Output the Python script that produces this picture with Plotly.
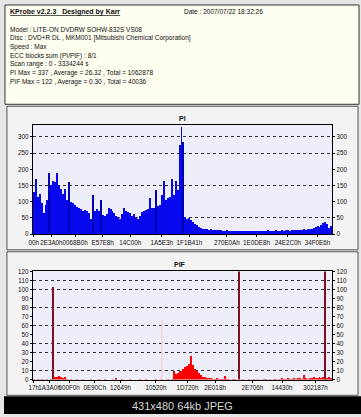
import plotly.graph_objects as go

# ---------------- data ----------------
pi_values = [
    130, 170, 115, 125, 95, 65, 90, 105, 190, 150,
    165, 160, 188, 150, 140, 125, 140, 105, 160, 100,
    95, 90, 85, 80, 78, 72, 75, 70, 65, 48,
    120, 72, 78, 70, 105, 60, 55, 62, 82, 78,
    72, 65, 55, 52, 48, 62, 80, 72, 68, 65,
    55, 62, 50, 45, 55, 68, 72, 75, 78, 110,
    80, 82, 135, 88, 90, 120, 165, 105, 112, 115,
    170, 122, 165, 135, 275, 330, 285, 52, 48, 50,
    42, 38, 32, 28, 22, 18, 16, 15, 16, 14,
    15, 13, 14, 12, 13, 12, 11, 10, 12, 9,
    10, 9,
    8, 9, 10, 8, 9, 11, 9, 8, 10, 9, 10, 9, 11, 10, 9, 10, 11,
    12, 10, 9, 11, 12, 11, 10, 12, 11, 13, 12, 11, 12, 13, 12, 14, 13,
    13, 15, 14, 16, 15, 17,
    20, 22, 24, 23, 28,
    33, 36, 31,
    18, 24,
]

pif_values = [
    1, 0, 1, 0, 1, 0, 0, 1, 0, 1,
    103,
    3, 3, 4, 3, 2, 3,
    1, 0, 1, 0, 0, 1, 0, 0, 1, 0, 0, 0, 1, 0, 0, 0, 1, 0, 0, 1, 0, 0, 0, 1, 0,
    2,
    0, 0, 1, 0, 0, 0, 1, 0, 0, 0, 0, 1, 0, 0, 1, 0, 0, 0, 0, 1, 0,
    0, 1, 0, 0, 1, 0, 1,
    10,
    6, 7, 9, 10, 12, 14, 15, 17,
    26,
    16, 12, 9, 7, 5,
    3, 3, 2, 2, 2, 1,
    1, 2, 1, 1, 1, 4, 1, 1, 0, 1, 1, 0,
    122,
    0, 1, 0, 0, 1, 0, 0, 1, 0, 1, 0, 0, 1, 1, 0, 1, 0, 1, 1, 0, 1, 2, 1, 1, 2, 1, 1, 2, 1, 2, 2, 1,
    5,
    2, 1, 2, 2, 3, 2, 2, 3, 2, 3,
    122,
    2, 3, 2,
]

pif_layer_break = 65          # sample index of the faint layer-change mark
pif_layer_break_height = 66

pi_tick_index = [0, 9, 21, 35, 49, 65, 79, 98, 113, 129, 144]
pi_tick_labels = ["00h", "2E3A0h", "0068B0h", "E57E8h", "14C00h", "1A5E3h",
                  "1F1B41h", "270E0Ah", "1E0DE8h", "24E2C0h", "34F0E6h"]
pif_tick_index = [0, 8, 18, 31, 44, 62, 78, 92, 111, 126, 143]
pif_tick_labels = ["17h", "1A3A0h", "000F0h", "0E90Ch", "12649h", "10520h",
                   "1D720h", "2E018h", "2E706h", "14430h", "302187h"]

pi_y_ticks = [0, 50, 100, 150, 200, 250, 300]
pi_grid = [50, 150, 250, 300]
pif_y_ticks = [0, 10, 20, 30, 40, 50, 60, 70, 80, 90, 100, 110, 120]
pif_grid = [10, 30, 40, 60, 80, 100, 110]

info_title = "KProbe v2.2.3   Designed by Karr"
info_date = "Date : 2007/07/22 18:32:26"
info_lines = [
    "Model : LITE-ON DVDRW SOHW-832S VS08",
    "Disc : DVD+R DL , MKM001 [Mitsubishi Chemical Corporation]",
    "Speed : Max",
    "ECC blocks sum (PI/PIF) : 8/1",
    "Scan range : 0 - 3334244 s",
    "PI Max = 337 , Average = 26.32 , Total = 1062878",
    "PIF Max = 122 , Average = 0.30 , Total = 40036",
]

# ---------------- helpers ----------------
W, H = 361, 417
def px(x):
    return x / W
def py(y):
    return 1 - y / H

n_pi = len(pi_values)
n_pif = len(pif_values)

def spike_colors(vals, base, dark):
    out = []
    for i, v in enumerate(vals):
        nb = [vals[j] for j in (i - 1, i + 1) if 0 <= j < len(vals)]
        avg = sum(nb) / len(nb)
        out.append(dark if v > avg * 1.4 + 10 else base)
    return out

pi_colors = spike_colors(pi_values, "#0808ee", "#0000b0")
pif_colors = ["#84101e" if v > 50 else "#ff0000" for v in pif_values]

fig = go.Figure()
# invisible helper traces so that every (main / overlaid) axis is drawn
for xa, ya in (("x", "y"), ("x", "y5"), ("x2", "y2"), ("x2", "y6")):
    fig.add_trace(go.Scatter(x=[0], y=[0], mode="markers", marker=dict(opacity=0, size=1),
                             xaxis=xa, yaxis=ya, hoverinfo="skip"))
fig.add_trace(go.Bar(x=list(range(n_pi)), y=pi_values, width=1.0,
                     marker=dict(color=pi_colors, line=dict(width=0)),
                     xaxis="x", yaxis="y3", hoverinfo="skip"))
fig.add_trace(go.Bar(x=list(range(n_pif)), y=pif_values, width=1.0,
                     marker=dict(color=pif_colors, line=dict(width=0)),
                     xaxis="x2", yaxis="y4", hoverinfo="skip"))
fig.add_trace(go.Scatter(x=[pif_layer_break, pif_layer_break], y=[0, pif_layer_break_height],
                         mode="lines", line=dict(color="#ffc0c8", width=1),
                         xaxis="x2", yaxis="y4", hoverinfo="skip"))

FONT = "Liberation Sans, Arial, sans-serif"
tickfont = dict(family=FONT, size=6.3, color="#111")

xdom = [px(29), px(332)]
pi_dom = [py(234), py(123)]
pif_dom = [py(382), py(272)]

common_x = dict(showline=True, mirror=True, linecolor="#000", linewidth=1,
                showgrid=False, zeroline=False, ticks="outside", ticklen=2,
                tickcolor="#000", tickfont=tickfont, fixedrange=True, tickangle=0)

def label_axis(rng, vals, side, over):
    return dict(range=rng, tickvals=vals, ticktext=[str(v) for v in vals], side=side,
                showgrid=False, zeroline=False, ticks="outside", ticklen=2,
                tickcolor="#000", tickfont=tickfont, showline=False, fixedrange=True,
                overlaying=over)

def grid_axis(rng, vals, dom, anchor):
    return dict(range=rng, tickvals=vals, showticklabels=False, domain=dom, anchor=anchor,
                showgrid=True, gridcolor="#333", griddash="dot", gridwidth=1,
                zeroline=False, ticks="", showline=True, mirror=True, linecolor="#000",
                fixedrange=True)

pi_rng = [0, 337]
pif_rng = [0, 120]

fig.update_layout(
    width=W, height=H,
    margin=dict(l=0, r=0, t=0, b=0),
    paper_bgcolor="#e6e6e6",
    plot_bgcolor="rgba(0,0,0,0)",
    showlegend=False,
    bargap=0,
    barmode="overlay",
    xaxis=dict(domain=xdom, anchor="y", range=[-0.5, n_pi - 0.5],
               tickvals=pi_tick_index, ticktext=pi_tick_labels, **common_x),
    xaxis2=dict(domain=xdom, anchor="y2", range=[-0.5, n_pif - 0.5],
                tickvals=pif_tick_index, ticktext=pif_tick_labels, **common_x),
    yaxis=grid_axis(pi_rng, pi_grid, pi_dom, "x"),
    yaxis2=grid_axis(pif_rng, pif_grid, pif_dom, "x2"),
    yaxis3=dict(label_axis(pi_rng, pi_y_ticks, "left", "y"), anchor="x"),
    yaxis4=dict(label_axis(pif_rng, pif_y_ticks, "left", "y2"), anchor="x2"),
    yaxis5=dict(label_axis(pi_rng, pi_y_ticks, "right", "y"), anchor="x"),
    yaxis6=dict(label_axis(pif_rng, pif_y_ticks, "right", "y2"), anchor="x2"),
)

shapes = [
    dict(type="rect", xref="paper", yref="paper", x0=px(1), x1=px(359), y0=py(102), y1=py(1),
         fillcolor="#fdfdf0", line=dict(color="#333", width=1), layer="below"),
    dict(type="rect", xref="paper", yref="paper", x0=px(3), x1=px(358), y0=py(250), y1=py(104),
         fillcolor="#f3f3f3", line=dict(color="#555", width=1), layer="below"),
    dict(type="rect", xref="paper", yref="paper", x0=px(3), x1=px(358), y0=py(398), y1=py(252),
         fillcolor="#f3f3f3", line=dict(color="#555", width=1), layer="below"),
    dict(type="rect", xref="paper", yref="paper", x0=xdom[0], x1=xdom[1], y0=pi_dom[0], y1=pi_dom[1],
         fillcolor="#eeeefa", line=dict(width=0), layer="below"),
    dict(type="rect", xref="paper", yref="paper", x0=xdom[0], x1=xdom[1], y0=pif_dom[0], y1=pif_dom[1],
         fillcolor="#eeeefa", line=dict(width=0), layer="below"),
    dict(type="rect", xref="paper", yref="paper", x0=0, x1=1, y0=0, y1=py(399),
         fillcolor="#000000", line=dict(width=0), layer="below"),
]
fig.update_layout(shapes=shapes)

ann = []
ann.append(dict(text="<b><u>" + info_title + "</u></b>", x=px(4), y=py(8), xref="paper", yref="paper",
                xanchor="left", yanchor="middle", showarrow=False,
                font=dict(family=FONT, size=7, color="#111")))
ann.append(dict(text=info_date, x=px(180), y=py(8), xref="paper", yref="paper",
                xanchor="left", yanchor="middle", showarrow=False,
                font=dict(family=FONT, size=6.5, color="#111")))
for i, line in enumerate(info_lines):
    ann.append(dict(text=line, x=px(4), y=py(25.7 + i * 8.9), xref="paper", yref="paper",
                    xanchor="left", yanchor="middle", showarrow=False,
                    font=dict(family=FONT, size=6.5, color="#111")))
ann.append(dict(text="<b>PI</b>", x=px(180), y=py(116), xref="paper", yref="paper",
                xanchor="center", yanchor="middle", showarrow=False,
                font=dict(family=FONT, size=7, color="#111")))
ann.append(dict(text="<b>PIF</b>", x=px(178), y=py(265), xref="paper", yref="paper",
                xanchor="center", yanchor="middle", showarrow=False,
                font=dict(family=FONT, size=7, color="#111")))
ann.append(dict(text="431x480 64kb JPEG", x=0.5, y=py(408.5), xref="paper", yref="paper",
                xanchor="center", yanchor="middle", showarrow=False,
                font=dict(family=FONT, size=11, color="#d8d8d8")))
fig.update_layout(annotations=ann)

fig.write_html("out.html", config={"displayModeBar": False, "staticPlot": True},
               post_script="document.body.style.margin='0';document.body.style.overflow='hidden';")
